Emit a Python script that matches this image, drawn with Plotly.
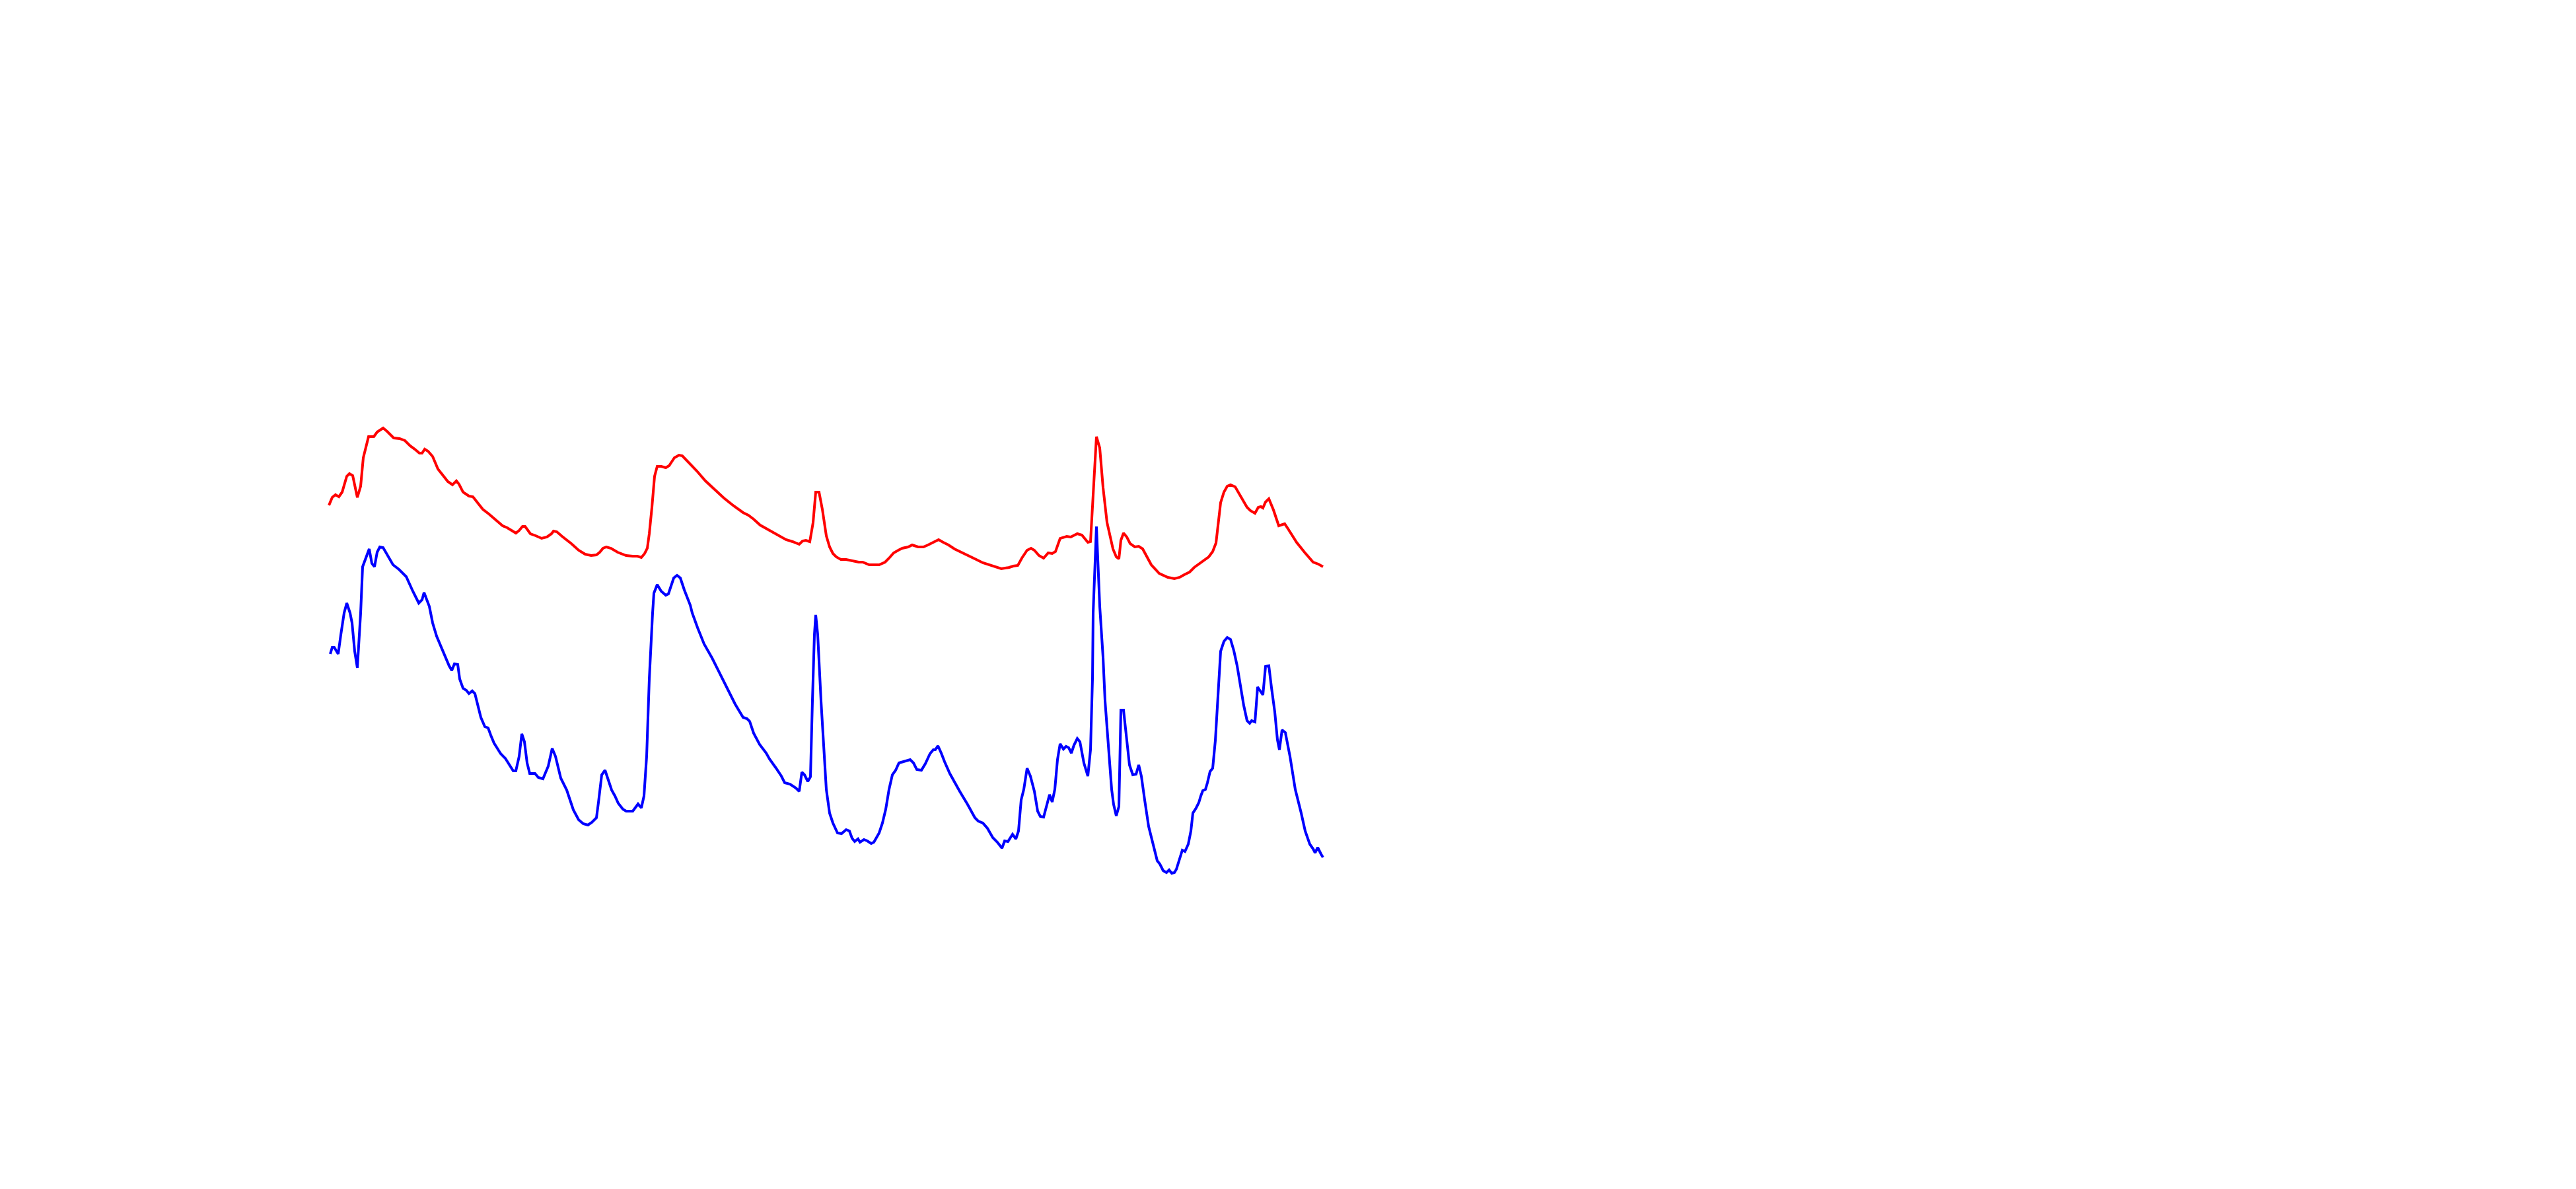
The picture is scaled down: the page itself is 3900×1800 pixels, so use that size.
import plotly.graph_objects as go

# ---- data (channel index, intensity in arbitrary units) ----
red_x = [0, 5, 10, 15, 20, 27, 31, 36, 43, 48, 52, 60, 68, 73, 82, 88, 98, 107, 115, 123,
         130, 137, 141, 145, 150, 157, 165, 173, 180, 187, 193, 197, 203, 212, 218, 225, 233, 242, 253, 263,
         270, 277, 283, 288, 293, 297, 305, 313, 322, 330, 337, 340, 345, 353, 367, 378, 388, 397, 405, 410,
         415, 420, 427, 437, 450, 460, 467, 473, 478, 482, 485, 489, 491, 493, 497, 503, 510, 515, 523, 530,
         535, 543, 557, 570, 583, 598, 613, 627, 635, 643, 653, 662, 672, 682, 692, 702, 712, 717, 722, 728,
         733, 737, 742, 747, 753, 758, 763, 768, 775, 783, 792, 802, 808, 818, 833, 842, 848, 855, 862, 868,
         877, 883, 892, 900, 907, 915, 923, 930, 938, 947, 960, 972, 980, 990, 1003, 1018, 1030, 1036, 1043, 1049,
         1057, 1063, 1068, 1075, 1082, 1089, 1095, 1100, 1107, 1117, 1123, 1133, 1140, 1149, 1153, 1157, 1162, 1167, 1172, 1178,
         1187, 1192, 1196, 1199, 1203, 1208, 1213, 1220, 1226, 1232, 1245, 1257, 1270, 1280, 1288, 1295, 1303, 1310, 1323, 1332,
         1338, 1343, 1350, 1355, 1360, 1365, 1372, 1380, 1390, 1395, 1402, 1407, 1411, 1414, 1418, 1423, 1430, 1438, 1447, 1453,
         1465, 1477, 1490, 1498, 1505]
red_y = [56.3, 57.5, 57.9, 57.6, 58.3, 60.7, 61.1, 60.8, 57.5, 59.2, 63.5, 66.7, 66.7, 67.4, 68.0, 67.5, 66.5, 66.4, 66.1, 65.3,
         64.8, 64.2, 64.2, 64.8, 64.5, 63.7, 61.8, 60.7, 59.9, 59.4, 60.0, 59.5, 58.3, 57.7, 57.6, 56.7, 55.7, 55.0, 54.0, 53.2,
         52.9, 52.5, 52.1, 52.5, 53.1, 53.1, 52.0, 51.7, 51.3, 51.5, 52.0, 52.4, 52.3, 51.6, 50.5, 49.5, 48.9, 48.7, 48.8, 49.2,
         49.8, 50.0, 49.8, 49.2, 48.7, 48.6, 48.6, 48.4, 49.0, 49.8, 52.0, 56.0, 58.5, 60.7, 62.2, 62.2, 62.0, 62.3, 63.5, 63.9,
         63.8, 63.0, 61.5, 60.0, 58.8, 57.4, 56.2, 55.2, 54.8, 54.2, 53.3, 52.8, 52.2, 51.7, 51.1, 50.8, 50.4, 50.9, 51.0, 50.8,
         53.7, 58.3, 58.3, 55.7, 51.7, 50.0, 49.0, 48.5, 48.1, 48.1, 47.9, 47.7, 47.7, 47.3, 47.3, 47.7, 48.3, 49.1, 49.5, 49.8,
         50.0, 50.3, 50.0, 50.0, 50.3, 50.7, 51.1, 50.7, 50.3, 49.7, 49.1, 48.5, 48.1, 47.6, 47.2, 46.7, 46.9, 47.1, 47.2, 48.3,
         49.5, 49.8, 49.5, 48.7, 48.3, 49.1, 49.0, 49.3, 51.3, 51.6, 51.5, 52.0, 51.8, 50.7, 50.8, 58.3, 66.7, 65.0, 59.0, 53.7,
         49.7, 48.5, 48.2, 51.0, 52.1, 51.5, 50.5, 50.0, 50.1, 49.7, 47.3, 46.0, 45.4, 45.2, 45.4, 45.8, 46.2, 46.9, 47.9, 48.5,
         49.3, 50.6, 56.7, 58.3, 59.2, 59.4, 59.1, 57.8, 56.0, 55.5, 55.1, 56.0, 56.1, 55.9, 56.8, 57.3, 55.6, 53.2, 53.5, 52.6,
         50.7, 49.2, 47.7, 47.4, 47.0]

blue_x = [2, 5, 8, 14, 18, 23, 27, 32, 35, 39, 43, 46, 48, 51, 55, 61, 65, 69, 73, 77,
          82, 88, 97, 106, 117, 127, 136, 141, 144, 152, 157, 163, 167, 172, 177, 182, 186, 190, 195, 198,
          203, 208, 212, 217, 221, 225, 230, 236, 241, 245, 250, 255, 260, 267, 273, 279, 283, 288, 292, 296,
          300, 304, 312, 317, 324, 332, 338, 343, 351, 357, 360, 370, 378, 385, 392, 398, 405, 408, 413, 418,
          423, 428, 433, 438, 445, 450, 460, 468, 473, 477, 481, 485, 490, 492, 497, 503, 510, 514, 522, 527,
          532, 538, 547, 550, 558, 568, 580, 593, 605, 615, 627, 633, 637, 643, 652, 662, 667, 677, 685, 690,
          698, 707, 712, 716, 720, 725, 729, 732, 735, 737, 740, 745, 750, 753, 758, 763, 770, 776, 783, 788,
          792, 796, 801, 804, 810, 815, 821, 825, 833, 838, 843, 848, 853, 858, 863, 870, 880, 885, 890, 897,
          903, 910, 915, 918, 922, 927, 932, 940, 948, 955, 967, 978, 983, 990, 997, 1005, 1012, 1019, 1023, 1028,
          1035, 1040, 1044, 1048, 1052, 1057, 1062, 1068, 1073, 1077, 1082, 1087, 1091, 1095, 1099, 1103, 1107, 1112, 1116, 1120,
          1124, 1128, 1133, 1137, 1143, 1149, 1153, 1156, 1157, 1162, 1167, 1172, 1175, 1180, 1185, 1188, 1192, 1196, 1198, 1199,
          1203, 1207, 1212, 1217, 1222, 1226, 1230, 1235, 1241, 1247, 1254, 1258, 1263, 1268, 1272, 1276, 1280, 1283, 1288, 1292,
          1296, 1301, 1305, 1308, 1313, 1317, 1320, 1323, 1327, 1330, 1334, 1338, 1342, 1346, 1350, 1355, 1360, 1365, 1370, 1375,
          1380, 1385, 1390, 1394, 1397, 1402, 1406, 1410, 1414, 1418, 1423, 1427, 1432, 1436, 1439, 1443, 1448, 1455, 1463, 1472,
          1478, 1485, 1490, 1493, 1497, 1502, 1505]
blue_y = [33.8, 34.8, 34.8, 33.8, 36.7, 40.0, 41.5, 40.0, 38.5, 34.2, 31.7, 36.0, 40.0, 47.0, 48.2, 49.7, 47.5, 47.0, 49.2, 50.0,
          49.9, 48.8, 47.3, 46.6, 45.5, 43.3, 41.5, 42.0, 43.1, 41.0, 38.5, 36.5, 35.5, 34.5, 33.0, 32.0, 31.3, 32.3, 32.2, 30.0,
          28.6, 28.3, 27.8, 28.2, 27.8, 26.0, 24.2, 22.8, 22.6, 21.5, 20.3, 19.5, 18.7, 18.0, 17.0, 16.1, 16.1, 18.3, 21.7, 20.5,
          17.3, 15.7, 15.7, 15.1, 14.9, 16.8, 19.5, 18.3, 15.0, 13.7, 13.2, 10.2, 8.7, 8.1, 7.9, 8.3, 9.0, 11.3, 15.5, 16.2,
          14.8, 13.2, 12.3, 11.2, 10.3, 10.0, 10.0, 11.1, 10.5, 12.3, 18.3, 30.0, 40.0, 43.0, 44.3, 43.3, 42.7, 42.9, 45.3, 45.7,
          45.3, 43.5, 41.2, 40.0, 37.8, 35.3, 33.2, 30.5, 28.2, 26.2, 24.2, 24.0, 23.6, 21.8, 20.1, 18.8, 17.9, 16.5, 15.3, 14.3,
          14.1, 13.5, 13.0, 15.9, 15.5, 14.5, 15.2, 26.7, 36.7, 39.7, 36.7, 26.7, 18.3, 13.3, 9.7, 8.2, 6.7, 6.6, 7.2, 7.0,
          5.9, 5.4, 5.8, 5.3, 5.7, 5.5, 5.1, 5.3, 6.7, 8.2, 10.3, 13.3, 15.5, 16.2, 17.3, 17.5, 17.8, 17.3, 16.3, 16.2,
          17.2, 18.7, 19.3, 19.3, 19.9, 18.8, 17.5, 15.7, 14.2, 13.0, 11.0, 9.0, 8.5, 8.2, 7.4, 6.0, 5.3, 4.4, 5.5, 5.4,
          6.5, 5.8, 7.0, 11.7, 13.3, 16.5, 15.3, 13.0, 10.0, 9.2, 9.1, 11.2, 12.5, 11.4, 13.3, 17.8, 20.2, 19.4, 19.8, 19.6,
          18.8, 20.0, 21.0, 20.5, 17.3, 15.3, 19.3, 30.0, 40.0, 53.1, 41.0, 33.3, 26.7, 20.0, 13.3, 11.0, 9.3, 10.7, 20.0, 25.3,
          25.3, 21.7, 17.0, 15.5, 15.6, 17.0, 15.3, 11.7, 7.7, 5.3, 2.5, 2.0, 1.0, 0.7, 1.1, 0.6, 0.7, 1.2, 2.8, 4.1,
          3.9, 5.0, 7.0, 9.7, 10.5, 11.3, 12.3, 13.1, 13.3, 14.3, 16.0, 16.5, 20.7, 28.3, 34.2, 35.7, 36.3, 36.0, 34.3, 32.0,
          29.0, 26.0, 23.7, 23.3, 23.7, 23.5, 28.8, 28.2, 27.6, 31.9, 32.0, 28.7, 25.0, 20.8, 19.3, 22.3, 21.9, 18.3, 13.3, 9.7,
          7.0, 5.0, 4.3, 3.7, 4.5, 3.5, 3.0]

fig = go.Figure()
fig.add_trace(go.Scatter(x=red_x, y=red_y, mode="lines", name="Spectrum A",
                         line=dict(color="#FF0000", width=4)))
fig.add_trace(go.Scatter(x=blue_x, y=blue_y, mode="lines", name="Spectrum B",
                         line=dict(color="#0000FF", width=4)))

fig.update_layout(
    width=3900, height=1800,
    margin=dict(l=470, r=1853, t=0, b=430, pad=0),
    paper_bgcolor="white", plot_bgcolor="white",
    showlegend=False,
    xaxis=dict(range=[-20, 1557], visible=False, showgrid=False, zeroline=False),
    yaxis=dict(range=[-5, 132], visible=False, showgrid=False, zeroline=False),
)

fig.write_html("out.html")
